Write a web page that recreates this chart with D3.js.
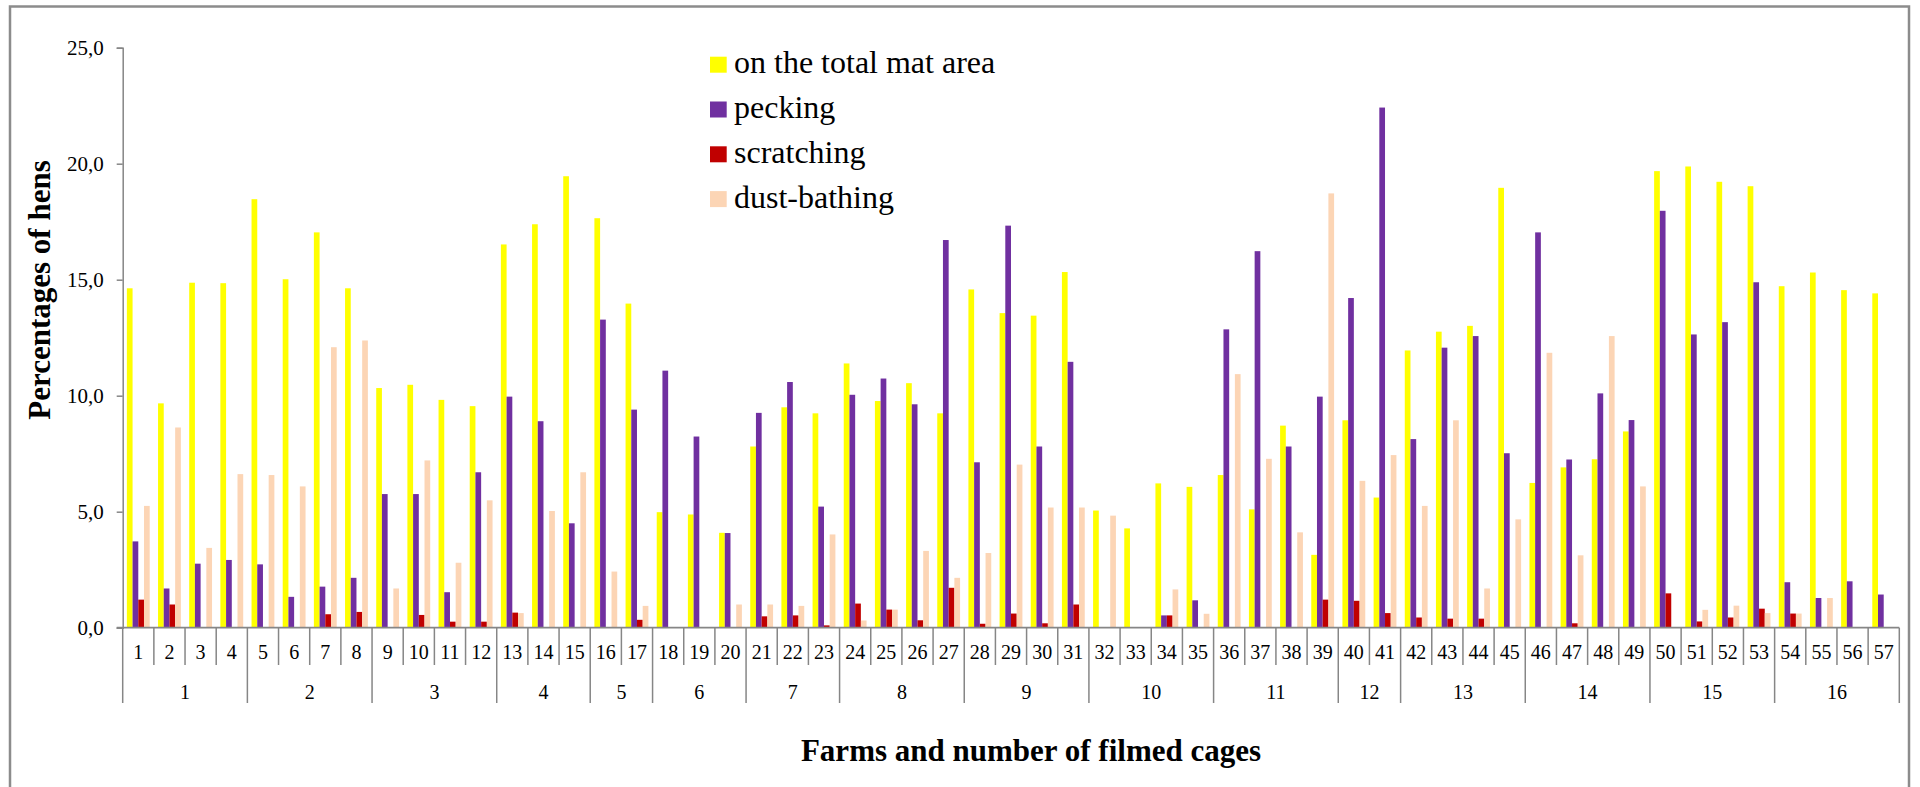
<!DOCTYPE html>
<html>
<head>
<meta charset="utf-8">
<script src="https://cdn.jsdelivr.net/npm/d3@7"></script>
<style>
  html, body { margin: 0; padding: 0; background: #fff; }
  svg { display: block; }
  text { font-family: "Liberation Serif", "Times New Roman", serif; fill: #000; }
</style>
</head>
<body>
<svg id="chart" width="1920" height="787"></svg>
<script>
// Filmed cages, numbered 1..57
const cages = d3.range(1, 58).map(String);

// Farms and how many cages were filmed on each
const farms = ["1","2","3","4","5","6","7","8","9","10","11","12","13","14","15","16"];
const cagesPerFarm = [4, 4, 4, 3, 2, 3, 3, 4, 4, 4, 4, 2, 4, 4, 4, 4];

// Percentages of hens per cage
const onMat = [14.63, 9.67, 14.87, 14.85, 18.47, 15.02, 17.04, 14.63, 10.33, 10.47,
               9.82, 9.55, 16.52, 17.39, 19.46, 17.65, 13.97, 4.98, 4.88, 4.09,
               7.81, 9.50, 9.24, 11.39, 9.77, 10.54, 9.24, 14.58, 13.56, 13.45,
               15.33, 5.05, 4.28, 6.22, 6.07, 6.58, 5.10, 8.71, 3.14, 8.94,
               5.61, 11.95, 12.76, 13.01, 18.96, 6.24, 6.91, 7.26, 8.46, 19.68,
               19.88, 19.22, 19.03, 14.72, 15.31, 14.55, 14.41];
const pecking = [3.72, 1.69, 2.76, 2.92, 2.73, 1.33, 1.77, 2.15, 5.76, 5.76,
                 1.53, 6.70, 9.96, 8.90, 4.50, 13.28, 9.40, 11.08, 8.24, 4.08,
                 9.26, 10.59, 5.22, 10.04, 10.74, 9.63, 16.71, 7.13, 17.33, 7.81,
                 11.46, 0, 0, 0.53, 1.18, 12.86, 16.23, 7.81, 9.96, 14.21,
                 22.42, 8.13, 12.07, 12.57, 7.52, 17.04, 7.25, 10.10, 8.95, 17.97,
                 12.64, 13.17, 14.89, 1.96, 1.28, 2.00, 1.43];
const scratching = [1.21, 1.00, 0, 0, 0, 0, 0.58, 0.68, 0, 0.55,
                    0.26, 0.26, 0.65, 0, 0, 0, 0.34, 0, 0, 0,
                    0.49, 0.53, 0.10, 1.04, 0.78, 0.32, 1.72, 0.17, 0.61, 0.19,
                    1.00, 0, 0, 0.53, 0, 0, 0, 0, 1.21, 1.16,
                    0.63, 0.44, 0.39, 0.39, 0, 0, 0.19, 0, 0, 1.48,
                    0.27, 0.44, 0.82, 0.61, 0, 0, 0];
const dustBathing = [5.25, 8.63, 3.44, 6.62, 6.58, 6.09, 12.09, 12.38, 1.69, 7.21,
                     2.80, 5.49, 0.63, 5.03, 6.70, 2.42, 0.94, 0, 0, 1.00,
                     1.00, 0.94, 4.02, 0.31, 0.78, 3.31, 2.15, 3.22, 7.03, 5.18,
                     5.18, 4.83, 0, 1.65, 0.60, 10.93, 7.28, 4.11, 18.72, 6.33,
                     7.44, 5.25, 8.94, 1.69, 4.67, 11.85, 3.12, 12.57, 6.09, 0,
                     0.77, 0.95, 0.63, 0.61, 1.28, 0, 0];

const seriesNames = ["on the total mat area", "pecking", "scratching", "dust-bathing"];
const seriesValues = [onMat, pecking, scratching, dustBathing];
const seriesColors = ["#FFFF00", "#7030A0", "#C00000", "#FCD5B5"];
const yTicks = [0, 5, 10, 15, 20, 25];

const svg = d3.select("#chart");

// outer frame
svg.append("rect")
  .attr("x", 10).attr("y", 6.5)
  .attr("width", 1899).attr("height", 800)
  .attr("fill", "none").attr("stroke", "#8c8c8c").attr("stroke-width", 2.5);

const x0 = d3.scaleBand().domain(cages).range([122.7, 1899.3]).paddingInner(0).paddingOuter(0);
const x1 = d3.scaleBand().domain(d3.range(4)).range([0, x0.bandwidth()]).paddingInner(0).paddingOuter(0.73);
const y = d3.scaleLinear().domain([0, 25]).range([627.7, 47.7]);

const axisColor = "#868686";

// bars
const barG = svg.append("g");
cages.forEach((c, i) => {
  const g = barG.append("g").attr("transform", `translate(${x0(c)},0)`);
  g.selectAll("rect")
    .data(seriesValues.map((vals, s) => ({ s, v: vals[i] })).filter(d => d.v > 0))
    .join("rect")
      .attr("x", d => x1(d.s))
      .attr("width", x1.bandwidth())
      .attr("y", d => y(d.v))
      .attr("height", d => y(0) - y(d.v))
      .attr("fill", d => seriesColors[d.s]);
});

// y axis
const yAxis = svg.append("g")
  .attr("transform", "translate(122.7,0)")
  .call(d3.axisLeft(y).tickValues(yTicks).tickSize(6).tickPadding(13)
        .tickFormat(d => d3.format(".1f")(d).replace(".", ",")));
yAxis.select(".domain").attr("stroke", axisColor).attr("stroke-width", 1.5);
yAxis.selectAll(".tick line").attr("stroke", axisColor).attr("stroke-width", 1.5);
yAxis.selectAll(".tick text")
  .style("font-family", "'Liberation Serif', serif").style("font-size", "21px").attr("fill", "#000");

// x axis line
svg.append("line")
  .attr("x1", x0.range()[0] - 6).attr("x2", x0.range()[1])
  .attr("y1", y(0)).attr("y2", y(0))
  .attr("stroke", axisColor).attr("stroke-width", 1.8);

// cage labels
const xAxis = svg.append("g")
  .attr("transform", `translate(0,${y(0)})`)
  .call(d3.axisBottom(x0).tickSize(0).tickPadding(17));
xAxis.select(".domain").remove();
xAxis.selectAll(".tick text")
  .style("font-family", "'Liberation Serif', serif").style("font-size", "20px").attr("fill", "#000");

// boundaries between cages; long ones separate farms
const farmEnds = d3.cumsum(cagesPerFarm);
const boundaries = d3.range(0, cages.length + 1);
svg.append("g").selectAll("line")
  .data(boundaries)
  .join("line")
    .attr("x1", i => i < cages.length ? x0(cages[i]) : x0.range()[1])
    .attr("x2", i => i < cages.length ? x0(cages[i]) : x0.range()[1])
    .attr("y1", y(0))
    .attr("y2", i => (i === 0 || farmEnds.includes(i)) ? 703 : 665)
    .attr("stroke", axisColor).attr("stroke-width", 1.5);

// farm labels
const farmStarts = [0, ...farmEnds.slice(0, -1)];
svg.append("g").selectAll("text")
  .data(farms)
  .join("text")
    .attr("x", (f, k) => {
      const a = x0(cages[farmStarts[k]]);
      const b = x0(cages[farmEnds[k] - 1]) + x0.bandwidth();
      return (a + b) / 2;
    })
    .attr("y", 699)
    .attr("text-anchor", "middle")
    .style("font-size", "20px")
    .text(d => d);

// axis titles
svg.append("text")
  .attr("transform", "translate(50,290) rotate(-90)")
  .attr("text-anchor", "middle")
  .style("font-size", "31px").style("font-weight", "bold")
  .text("Percentages of hens");

svg.append("text")
  .attr("x", 1031).attr("y", 761)
  .attr("text-anchor", "middle")
  .style("font-size", "31px").style("font-weight", "bold")
  .text("Farms and number of filmed cages");

// legend
const legend = svg.append("g").attr("transform", "translate(710,56.7)");
const items = legend.selectAll("g")
  .data(seriesNames)
  .join("g")
    .attr("transform", (d, i) => `translate(0,${i * 44.8})`);
items.append("rect")
  .attr("width", 16.7).attr("height", 16)
  .attr("fill", (d, i) => seriesColors[i]);
items.append("text")
  .attr("x", 24).attr("y", 16.5)
  .style("font-size", "32px")
  .text(d => d);
</script>
</body>
</html>
